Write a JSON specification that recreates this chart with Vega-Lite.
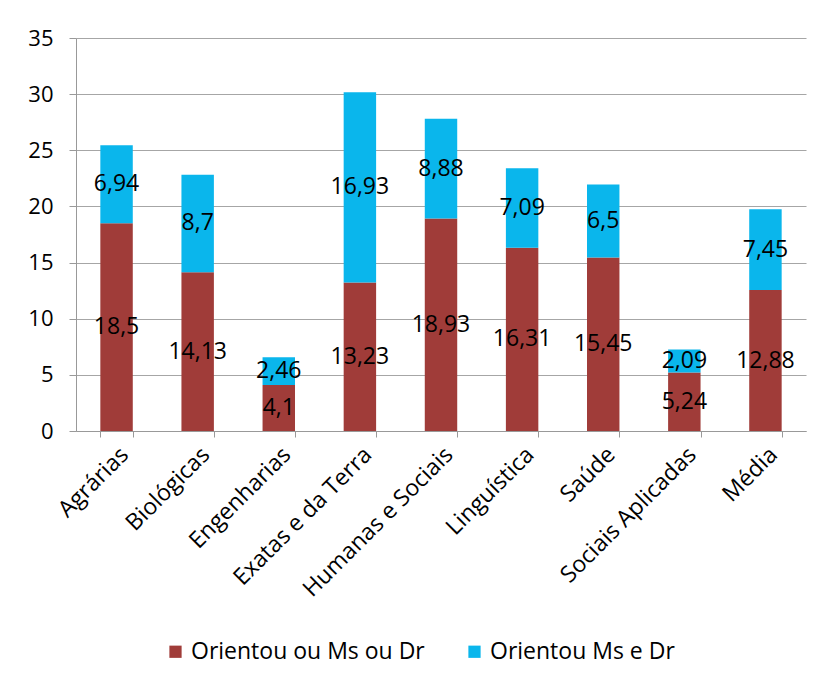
{
  "$schema": "https://vega.github.io/schema/vega-lite/v6.json",
  "autosize": {"type": "none"},
  "width": 730,
  "height": 393,
  "padding": {"left": 76, "top": 38, "right": 16, "bottom": 256},
  "background": "white",
  "config": {
    "view": {"stroke": null},
    "font": "Open Sans"
  },
  "data": {
    "values": [
      {"area": "Agrárias", "serie": "Orientou ou Ms ou Dr", "ord": 1, "v": 18.5, "rot": "18,5"},
      {"area": "Agrárias", "serie": "Orientou Ms e Dr", "ord": 2, "v": 6.94, "rot": "6,94"},
      {"area": "Biológicas", "serie": "Orientou ou Ms ou Dr", "ord": 1, "v": 14.13, "rot": "14,13"},
      {"area": "Biológicas", "serie": "Orientou Ms e Dr", "ord": 2, "v": 8.7, "rot": "8,7"},
      {"area": "Engenharias", "serie": "Orientou ou Ms ou Dr", "ord": 1, "v": 4.1, "rot": "4,1"},
      {"area": "Engenharias", "serie": "Orientou Ms e Dr", "ord": 2, "v": 2.46, "rot": "2,46"},
      {"area": "Exatas e da Terra", "serie": "Orientou ou Ms ou Dr", "ord": 1, "v": 13.23, "rot": "13,23"},
      {"area": "Exatas e da Terra", "serie": "Orientou Ms e Dr", "ord": 2, "v": 16.93, "rot": "16,93"},
      {"area": "Humanas e Sociais", "serie": "Orientou ou Ms ou Dr", "ord": 1, "v": 18.93, "rot": "18,93"},
      {"area": "Humanas e Sociais", "serie": "Orientou Ms e Dr", "ord": 2, "v": 8.88, "rot": "8,88"},
      {"area": "Linguística", "serie": "Orientou ou Ms ou Dr", "ord": 1, "v": 16.31, "rot": "16,31"},
      {"area": "Linguística", "serie": "Orientou Ms e Dr", "ord": 2, "v": 7.09, "rot": "7,09"},
      {"area": "Saúde", "serie": "Orientou ou Ms ou Dr", "ord": 1, "v": 15.45, "rot": "15,45"},
      {"area": "Saúde", "serie": "Orientou Ms e Dr", "ord": 2, "v": 6.5, "rot": "6,5"},
      {"area": "Sociais Aplicadas", "serie": "Orientou ou Ms ou Dr", "ord": 1, "v": 5.2, "rot": "5,24"},
      {"area": "Sociais Aplicadas", "serie": "Orientou Ms e Dr", "ord": 2, "v": 2.05, "rot": "2,09"},
      {"area": "Média", "serie": "Orientou ou Ms ou Dr", "ord": 1, "v": 12.55, "rot": "12,88"},
      {"area": "Média", "serie": "Orientou Ms e Dr", "ord": 2, "v": 7.2, "rot": "7,45"}
    ]
  },
  "encoding": {
    "x": {
      "field": "area", "type": "nominal", "sort": null,
      "scale": {"paddingInner": 0.6, "paddingOuter": 0.3},
      "axis": {
        "title": null, "labelAngle": -45, "labelFontSize": 23, "labelColor": "#000",
        "labelFont": "Open Sans", "tickBand": "extent", "tickSize": 6, "labelLimit": 0,
        "tickColor": "#999", "domainColor": "#999", "labelPadding": 6
      }
    },
    "y": {
      "field": "v", "type": "quantitative", "stack": "zero",
      "scale": {"domain": [0, 35]},
      "axis": {
        "title": null, "values": [0, 5, 10, 15, 20, 25, 30, 35],
        "labelFontSize": 22, "labelColor": "#000", "labelFont": "Open Sans",
        "tickSize": 7, "tickColor": "#999", "domainColor": "#999",
        "gridColor": "#A6A6A6", "gridWidth": 1.2, "labelPadding": 16
      }
    },
    "order": {"field": "ord", "type": "quantitative", "sort": "ascending"}
  },
  "layer": [
    {
      "mark": {"type": "bar"},
      "encoding": {
        "color": {
          "field": "serie", "type": "nominal",
          "scale": {"domain": ["Orientou ou Ms ou Dr", "Orientou Ms e Dr"], "range": ["#A03C39", "#0AB6EC"]},
          "legend": {
            "title": null, "orient": "none", "direction": "horizontal",
            "legendX": 88, "legendY": 602, "labelLimit": 0,
            "symbolType": "square", "symbolSize": 150, "symbolStrokeWidth": 0,
            "labelFontSize": 23, "labelFont": "Open Sans", "labelColor": "#000",
            "labelOffset": 4, "columnPadding": 38
          }
        }
      }
    },
    {
      "mark": {"type": "text", "fontSize": 23, "font": "Open Sans", "color": "#000", "baseline": "middle"},
      "encoding": {
        "y": {"field": "v", "type": "quantitative", "stack": "zero", "bandPosition": 0.5},
        "text": {"field": "rot", "type": "nominal"}
      }
    }
  ]
}
